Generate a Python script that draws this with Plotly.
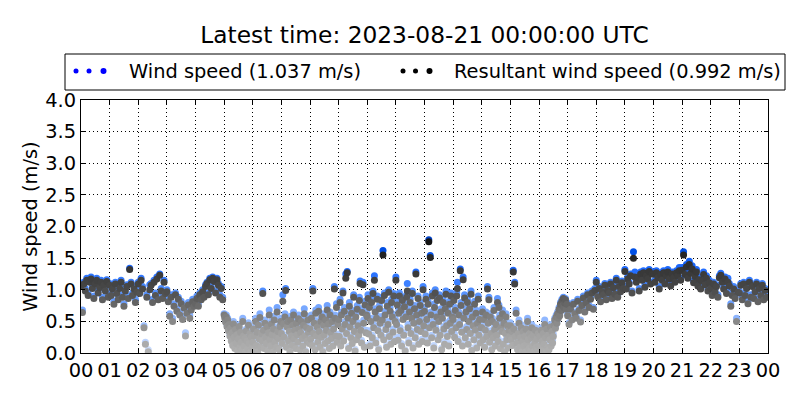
import pandas as pd
import plotly.graph_objects as go

# sample times: 3-minute steps in calm hours, 90-second steps in 05:00-16:59
times_early = pd.date_range("2023-08-20 00:00", periods=100, freq="3min")   # 00:00-04:57
times_mid = pd.date_range("2023-08-20 05:00", periods=480, freq="90s")      # 05:00-16:58:30
times_late = pd.date_range("2023-08-20 17:00", periods=140, freq="3min")    # 17:00-23:57
times = times_early.append(times_mid).append(times_late)

wind_speed = [
    # 00-04 (20 per hour)
    1.08, 0.68, 1.12, 1.02, 1.18, 0.95, 1.15, 1.20, 1.05, 0.90, 1.12, 1.18, 0.98, 1.06, 1.15, 0.88, 1.10, 1.02, 1.16, 0.92,
    1.10, 0.95, 1.05, 0.82, 1.12, 0.98, 0.88, 1.06, 1.15, 0.92, 0.78, 1.02, 1.08, 0.90, 1.34, 1.12, 0.95, 1.05, 0.85, 1.00,
    1.12, 0.98, 1.18, 1.05, 0.43, 0.17, 0.92, 0.05, 1.08, 1.10, 0.85, 1.15, 0.95, 1.20, 0.88, 1.25, 1.02, 0.90, 1.15, 0.98,
    1.00, 0.85, 0.62, 0.92, 0.55, 0.78, 0.95, 0.70, 0.88, 0.65, 0.82, 0.58, 0.75, 0.32, 0.68, 0.80, 0.60, 0.72, 0.85, 0.78,
    0.82, 0.90, 0.78, 0.95, 0.88, 1.00, 0.92, 1.08, 1.12, 0.95, 1.18, 1.05, 1.20, 1.15, 0.98, 1.18, 1.10, 0.92, 1.05, 0.88,
    # 05-16 (40 per hour)
    0.62, 0.58, 0.52, 0.60, 0.45, 0.55, 0.38, 0.48, 0.30, 0.42, 0.22, 0.35, 0.15, 0.50, 0.28, 0.10, 0.40, 0.18, 0.32, 0.06,
    0.25, 0.45, 0.12, 0.36, 0.20, 0.08, 0.55, 0.30, 0.14, 0.26, 0.04, 0.38, 0.22, 0.10, 0.48, 0.18, 0.33, 0.02, 0.28, 0.12,
    0.20, 0.42, 0.08, 0.30, 0.55, 0.15, 0.36, 0.05, 0.48, 0.25, 0.62, 0.12, 0.34, 0.22, 0.98, 0.40, 0.10, 0.52, 0.28, 0.18,
    0.45, 0.06, 0.35, 0.68, 0.24, 0.14, 0.50, 0.32, 0.02, 0.42, 0.58, 0.20, 0.30, 0.12, 0.72, 0.38, 0.26, 0.08, 0.46, 0.55,
    0.35, 0.18, 0.92, 0.50, 0.28, 0.62, 1.02, 0.12, 0.45, 0.55, 0.22, 0.38, 0.05, 0.58, 0.30, 0.15, 0.48, 0.65, 0.25, 0.40,
    0.10, 0.52, 0.32, 0.20, 0.60, 0.42, 0.08, 0.35, 0.55, 0.26, 0.14, 0.48, 0.70, 0.30, 0.04, 0.44, 0.22, 0.58, 0.36, 0.18,
    0.42, 0.25, 0.60, 0.15, 1.02, 0.35, 0.52, 0.08, 0.68, 0.30, 0.45, 0.20, 0.72, 0.38, 0.12, 0.55, 0.28, 0.62, 0.05, 0.48,
    0.32, 0.18, 0.58, 0.40, 0.75, 0.22, 0.50, 0.10, 0.65, 0.35, 0.26, 0.55, 0.14, 0.42, 1.05, 0.60, 0.30, 0.78, 0.20, 0.50,
    0.58, 0.30, 0.85, 0.15, 0.65, 0.42, 0.98, 0.22, 0.72, 0.50, 1.25, 0.35, 1.29, 0.60, 0.10, 0.80, 0.45, 0.28, 0.68, 0.18,
    0.55, 0.92, 0.38, 0.06, 0.62, 0.25, 0.75, 0.48, 0.32, 0.88, 1.14, 0.40, 0.20, 0.70, 1.12, 0.52, 0.12, 0.82, 0.36, 0.65,
    0.62, 0.92, 0.35, 0.78, 0.15, 0.55, 0.85, 0.28, 0.98, 0.45, 1.22, 0.70, 0.20, 0.60, 0.90, 0.40, 0.08, 0.75, 0.52, 0.32,
    0.88, 0.58, 1.62, 0.25, 0.95, 0.66, 0.42, 0.12, 0.80, 0.50, 1.00, 0.30, 0.72, 0.18, 0.85, 0.62, 0.38, 0.94, 0.22, 0.55,
    1.20, 0.50, 0.82, 0.25, 0.68, 0.95, 0.40, 0.72, 0.15, 0.88, 0.58, 0.32, 0.78, 0.05, 0.62, 0.92, 1.10, 0.45, 0.20, 0.70,
    0.85, 0.35, 0.60, 0.98, 0.12, 0.52, 0.75, 0.28, 1.28, 0.65, 0.42, 0.90, 0.18, 0.55, 0.80, 0.38, 0.68, 0.22, 1.05, 0.48,
    0.72, 0.35, 0.90, 0.58, 0.20, 0.82, 1.79, 0.45, 1.54, 0.65, 0.28, 0.95, 0.50, 0.12, 0.78, 1.00, 0.40, 0.62, 0.88, 0.25,
    0.55, 0.92, 0.32, 0.70, 0.08, 0.60, 0.85, 0.42, 0.18, 0.75, 0.98, 0.48, 0.30, 0.68, 0.15, 0.82, 0.52, 0.95, 0.38, 0.62,
    0.58, 0.88, 0.30, 0.72, 0.45, 0.95, 1.12, 0.22, 0.65, 0.50, 1.33, 0.80, 0.38, 0.15, 1.20, 0.60, 0.92, 0.28, 0.70, 0.42,
    0.85, 0.18, 0.55, 0.75, 0.35, 0.98, 0.08, 0.62, 0.48, 0.25, 0.82, 0.40, 0.68, 0.12, 0.52, 0.90, 0.32, 0.58, 0.20, 0.45,
    0.45, 0.70, 0.25, 0.58, 0.12, 0.40, 0.65, 0.30, 1.05, 0.52, 0.88, 0.20, 0.62, 0.35, 0.08, 0.55, 0.28, 0.72, 0.42, 0.15,
    0.50, 0.32, 0.86, 0.22, 0.76, 0.60, 0.10, 0.45, 0.38, 0.68, 0.18, 0.52, 0.05, 0.35, 0.62, 0.25, 0.48, 0.12, 0.40, 0.30,
    0.48, 0.25, 0.38, 0.15, 1.31, 0.42, 1.12, 0.30, 0.68, 0.20, 0.08, 0.35, 0.52, 0.12, 0.28, 0.45, 0.05, 0.22, 0.38, 0.15,
    0.30, 0.02, 0.42, 0.18, 0.55, 0.25, 0.10, 0.35, 0.06, 0.28, 0.45, 0.14, 0.32, 0.04, 0.20, 0.40, 0.12, 0.26, 0.08, 0.35,
    0.15, 0.30, 0.05, 0.40, 0.22, 0.10, 0.35, 0.18, 0.52, 0.28, 0.02, 0.42, 0.12, 0.32, 0.08, 0.25, 0.45, 0.15, 0.38, 0.20,
    0.30, 0.48, 0.55, 0.42, 0.60, 0.50, 0.65, 0.58, 0.72, 0.62, 0.80, 0.70, 0.85, 0.78, 0.88, 0.75, 0.82, 0.86, 0.72, 0.80,
    # 17-23 (20 per hour)
    0.62, 0.48, 0.72, 0.55, 0.80, 0.65, 0.58, 0.85, 0.70, 0.52, 0.78, 0.90, 0.68, 0.82, 0.95, 0.75, 0.88, 0.98, 0.72, 1.02,
    1.15, 0.92, 1.05, 0.85, 1.00, 0.95, 1.10, 0.88, 1.02, 0.98, 1.12, 0.90, 1.06, 0.96, 1.18, 0.92, 1.08, 1.00, 1.14, 1.05,
    1.32, 1.05, 1.20, 1.12, 1.25, 0.98, 1.60, 1.28, 1.15, 1.22, 1.02, 1.28, 1.18, 1.30, 1.08, 1.25, 1.20, 1.32, 1.12, 1.28,
    1.28, 1.15, 1.30, 1.22, 1.05, 1.27, 1.18, 1.30, 1.12, 1.25, 1.32, 1.20, 1.10, 1.28, 1.22, 1.15, 1.30, 1.25, 1.35, 1.18,
    1.35, 1.60, 1.28, 1.40, 1.22, 1.45, 1.30, 1.38, 1.15, 1.25, 1.32, 1.10, 1.20, 1.05, 1.18, 1.28, 1.12, 1.22, 1.02, 1.15,
    1.05, 0.95, 1.12, 1.00, 1.08, 0.92, 1.22, 1.26, 1.15, 1.05, 1.20, 0.98, 1.18, 1.10, 0.78, 0.95, 1.05, 0.90, 0.55, 1.00,
    0.98, 1.10, 0.88, 1.12, 0.95, 1.05, 0.82, 1.15, 0.92, 1.08, 0.90, 1.00, 1.12, 0.85, 1.05, 0.95, 1.10, 0.88, 1.02, 0.92,
]

resultant_speed = [
    # 00-04
    1.05, 0.64, 1.09, 0.98, 1.15, 0.91, 1.12, 1.17, 1.02, 0.86, 1.09, 1.15, 0.95, 1.03, 1.12, 0.84, 1.07, 0.98, 1.13, 0.88,
    1.07, 0.91, 1.01, 0.77, 1.09, 0.94, 0.84, 1.02, 1.12, 0.88, 0.74, 0.98, 1.05, 0.86, 1.32, 1.09, 0.91, 1.01, 0.80, 0.96,
    1.09, 0.94, 1.15, 1.01, 0.40, 0.14, 0.88, 0.02, 1.00, 1.07, 0.80, 1.12, 0.91, 1.17, 0.84, 1.23, 0.98, 0.86, 1.12, 0.94,
    0.97, 0.81, 0.58, 0.88, 0.50, 0.74, 0.92, 0.66, 0.85, 0.60, 0.78, 0.53, 0.71, 0.27, 0.63, 0.76, 0.55, 0.68, 0.81, 0.74,
    0.78, 0.86, 0.74, 0.92, 0.84, 0.97, 0.88, 1.05, 1.10, 0.92, 1.16, 1.02, 1.18, 1.13, 0.95, 1.16, 1.07, 0.88, 1.02, 0.84,
    # 05-16
    0.60, 0.55, 0.49, 0.57, 0.42, 0.52, 0.35, 0.45, 0.27, 0.39, 0.19, 0.32, 0.12, 0.46, 0.25, 0.07, 0.37, 0.15, 0.29, 0.03,
    0.22, 0.42, 0.09, 0.33, 0.17, 0.05, 0.50, 0.27, 0.11, 0.23, 0.02, 0.35, 0.19, 0.07, 0.44, 0.15, 0.30, 0.01, 0.25, 0.09,
    0.17, 0.38, 0.05, 0.27, 0.50, 0.12, 0.33, 0.02, 0.44, 0.22, 0.56, 0.09, 0.31, 0.19, 0.94, 0.36, 0.07, 0.47, 0.25, 0.15,
    0.41, 0.03, 0.32, 0.60, 0.21, 0.11, 0.46, 0.29, 0.01, 0.38, 0.52, 0.17, 0.27, 0.09, 0.65, 0.34, 0.23, 0.05, 0.42, 0.50,
    0.31, 0.15, 0.82, 0.46, 0.25, 0.57, 0.99, 0.09, 0.41, 0.50, 0.19, 0.34, 0.02, 0.52, 0.27, 0.12, 0.44, 0.60, 0.22, 0.36,
    0.07, 0.47, 0.29, 0.17, 0.54, 0.38, 0.05, 0.32, 0.50, 0.23, 0.11, 0.44, 0.62, 0.27, 0.02, 0.40, 0.19, 0.52, 0.33, 0.15,
    0.38, 0.22, 0.55, 0.12, 0.98, 0.31, 0.47, 0.05, 0.63, 0.27, 0.41, 0.17, 0.66, 0.34, 0.09, 0.50, 0.25, 0.57, 0.02, 0.44,
    0.29, 0.15, 0.52, 0.36, 0.68, 0.19, 0.46, 0.07, 0.60, 0.32, 0.23, 0.50, 0.11, 0.38, 1.01, 0.55, 0.27, 0.72, 0.17, 0.45,
    0.53, 0.26, 0.80, 0.11, 0.60, 0.38, 0.95, 0.19, 0.66, 0.45, 1.18, 0.31, 1.27, 0.55, 0.07, 0.74, 0.41, 0.24, 0.63, 0.15,
    0.50, 0.88, 0.34, 0.03, 0.57, 0.21, 0.69, 0.43, 0.28, 0.83, 1.10, 0.36, 0.16, 0.64, 1.08, 0.47, 0.09, 0.76, 0.32, 0.60,
    0.57, 0.86, 0.30, 0.72, 0.11, 0.50, 0.80, 0.24, 0.94, 0.40, 1.15, 0.65, 0.16, 0.55, 0.85, 0.35, 0.05, 0.70, 0.47, 0.28,
    0.83, 0.52, 1.55, 0.21, 0.91, 0.60, 0.37, 0.09, 0.74, 0.45, 0.96, 0.26, 0.66, 0.14, 0.80, 0.57, 0.33, 0.90, 0.18, 0.50,
    1.15, 0.45, 0.76, 0.20, 0.63, 0.90, 0.35, 0.67, 0.11, 0.83, 0.53, 0.28, 0.73, 0.03, 0.57, 0.88, 0.98, 0.40, 0.16, 0.65,
    0.80, 0.31, 0.55, 0.94, 0.08, 0.47, 0.70, 0.24, 1.25, 0.60, 0.37, 0.86, 0.14, 0.50, 0.75, 0.34, 0.63, 0.18, 1.00, 0.43,
    0.66, 0.30, 0.85, 0.53, 0.16, 0.77, 1.76, 0.40, 1.51, 0.60, 0.24, 0.90, 0.45, 0.08, 0.72, 0.95, 0.36, 0.57, 0.83, 0.21,
    0.50, 0.87, 0.28, 0.65, 0.05, 0.55, 0.80, 0.38, 0.14, 0.70, 0.93, 0.43, 0.26, 0.63, 0.11, 0.77, 0.47, 0.90, 0.34, 0.57,
    0.53, 0.83, 0.25, 0.67, 0.40, 0.90, 1.02, 0.18, 0.60, 0.45, 1.30, 0.75, 0.33, 0.11, 1.16, 0.55, 0.87, 0.24, 0.65, 0.37,
    0.80, 0.14, 0.50, 0.70, 0.31, 0.93, 0.04, 0.57, 0.43, 0.21, 0.77, 0.36, 0.63, 0.08, 0.47, 0.85, 0.28, 0.53, 0.16, 0.40,
    0.40, 0.65, 0.21, 0.53, 0.09, 0.36, 0.60, 0.26, 1.01, 0.47, 0.84, 0.17, 0.57, 0.31, 0.05, 0.50, 0.24, 0.67, 0.37, 0.11,
    0.45, 0.28, 0.80, 0.18, 0.72, 0.55, 0.07, 0.40, 0.34, 0.62, 0.14, 0.47, 0.02, 0.31, 0.57, 0.21, 0.43, 0.08, 0.36, 0.26,
    0.43, 0.21, 0.34, 0.12, 1.28, 0.38, 1.09, 0.26, 0.63, 0.16, 0.05, 0.31, 0.47, 0.09, 0.24, 0.40, 0.02, 0.18, 0.34, 0.11,
    0.26, 0.01, 0.38, 0.14, 0.50, 0.21, 0.07, 0.31, 0.03, 0.24, 0.40, 0.11, 0.28, 0.02, 0.16, 0.36, 0.09, 0.22, 0.05, 0.31,
    0.11, 0.26, 0.02, 0.36, 0.18, 0.07, 0.31, 0.14, 0.45, 0.24, 0.01, 0.38, 0.09, 0.28, 0.05, 0.21, 0.41, 0.11, 0.34, 0.16,
    0.26, 0.44, 0.52, 0.39, 0.57, 0.47, 0.62, 0.55, 0.69, 0.59, 0.77, 0.67, 0.82, 0.75, 0.86, 0.72, 0.79, 0.84, 0.69, 0.77,
    # 17-23
    0.59, 0.45, 0.69, 0.52, 0.77, 0.62, 0.55, 0.82, 0.67, 0.49, 0.75, 0.87, 0.65, 0.79, 0.92, 0.72, 0.85, 0.95, 0.69, 0.99,
    1.12, 0.89, 1.02, 0.81, 0.97, 0.92, 1.07, 0.84, 0.99, 0.95, 1.09, 0.86, 1.03, 0.93, 1.15, 0.88, 1.05, 0.97, 1.11, 1.02,
    1.29, 1.01, 1.17, 1.09, 1.22, 0.95, 1.50, 1.20, 1.12, 1.19, 0.98, 1.25, 1.15, 1.27, 1.04, 1.22, 1.17, 1.29, 1.09, 1.25,
    1.25, 1.12, 1.27, 1.19, 1.01, 1.24, 1.15, 1.27, 1.09, 1.22, 1.28, 1.17, 1.06, 1.25, 1.19, 1.12, 1.27, 1.22, 1.30, 1.15,
    1.31, 1.55, 1.24, 1.36, 1.18, 1.40, 1.26, 1.33, 1.11, 1.21, 1.28, 1.06, 1.16, 1.01, 1.14, 1.24, 1.08, 1.18, 0.98, 1.11,
    1.02, 0.91, 1.09, 0.96, 1.05, 0.88, 1.19, 1.23, 1.12, 1.01, 1.17, 0.94, 1.12, 1.06, 0.74, 0.91, 1.01, 0.86, 0.50, 0.96,
    0.95, 1.07, 0.84, 1.09, 0.91, 1.02, 0.78, 1.12, 0.88, 1.05, 0.86, 0.97, 1.09, 0.81, 1.02, 0.91, 1.07, 0.84, 0.99, 0.88,
]
assert len(wind_speed) == len(times) and len(resultant_speed) == len(times)

title_text = "Latest time: 2023-08-21 00:00:00 UTC"
ws_label = "Wind speed (1.037 m/s)"
res_label = "Resultant wind speed (0.992 m/s)"
y_ticks = [0.0, 0.5, 1.0, 1.5, 2.0, 2.5, 3.0, 3.5, 4.0]

FONT = "DejaVu Sans"
BASE = 19.4
blue_scale = [[0, "#d2e2ff"], [0.25, "#94baff"], [0.5, "#4d8cff"],
              [0.65, "#1f6bff"], [0.8, "#0050e6"], [1, "#0030a0"]]
grey_scale = [[0, "#b2b2b2"], [0.15, "#a2a2a2"], [0.3, "#7c7c7c"],
              [0.5, "#4a4a4a"], [0.65, "#373737"], [0.9, "#101010"], [1, "#000000"]]

fig = go.Figure()
fig.add_trace(go.Scatter(
    x=times, y=wind_speed, mode="markers", name=ws_label, showlegend=False,
    marker=dict(size=7, color=wind_speed, colorscale=blue_scale, cmin=0, cmax=2,
                line=dict(width=0)),
))
fig.add_trace(go.Scatter(
    x=times, y=resultant_speed, mode="markers", name=res_label, showlegend=False,
    marker=dict(size=7, color=resultant_speed, colorscale=grey_scale, cmin=0, cmax=2,
                line=dict(width=0)),
))

# the page body has an 8px margin; figure is 792x392 so it fits the 800x400 window
OFF = 8
FW, FH = 800 - OFF, 400 - OFF
# plot area in window pixels: x 81..768, y 100..353
L, R, T, B = 81, 768, 100, 353
W, H = R - L, B - T
def px(xp):
    return (xp - L) / W
def py(yp):
    return (B - yp) / H

shapes = [dict(type="rect", xref="paper", yref="paper",
               x0=px(65), x1=px(785), y0=py(90), y1=py(54),
               line=dict(color="black", width=1), fillcolor="white", layer="above")]
for cx, d, col in [(76, 5, "#0000ff"), (89, 5, "#0000ff"), (103.5, 6, "#0000ff"),
                   (403, 5, "#000000"), (415.5, 5, "#000000"), (429.5, 6, "#000000")]:
    shapes.append(dict(type="circle", xref="paper", yref="paper",
                       xsizemode="pixel", ysizemode="pixel",
                       xanchor=px(cx), yanchor=py(71),
                       x0=-d / 2, x1=d / 2, y0=-d / 2, y1=d / 2,
                       fillcolor=col, line=dict(width=0), layer="above"))

annotations = [
    dict(text=ws_label, xref="paper", yref="paper", x=px(127), y=py(72),
         xanchor="left", yanchor="middle", showarrow=False,
         font=dict(family=FONT, size=BASE, color="black")),
    dict(text=res_label, xref="paper", yref="paper", x=px(452), y=py(72),
         xanchor="left", yanchor="middle", showarrow=False,
         font=dict(family=FONT, size=BASE, color="black")),
]

fig.update_layout(
    width=FW, height=FH,
    margin=dict(l=L - OFF, r=800 - R, t=T - OFF, b=400 - B, pad=0),
    paper_bgcolor="white", plot_bgcolor="white",
    font=dict(family=FONT, size=BASE, color="black"),
    title=dict(text=title_text, xref="paper", x=0.5, xanchor="center",
               y=1 - (35 - OFF) / FH, yanchor="middle", yref="container",
               font=dict(family=FONT, size=23.3, color="black")),
    shapes=shapes, annotations=annotations,
    showlegend=False,
)
fig.update_xaxes(
    type="date",
    range=["2023-08-20 00:00:00", "2023-08-21 00:00:00"],
    tick0="2023-08-20 00:00:00", dtick=3600000, tickformat="%H",
    ticks="inside", ticklen=4, tickcolor="black",
    showline=True, linecolor="black", linewidth=1, mirror="ticks",
    showgrid=True, gridcolor="black", gridwidth=1, griddash="1px,3px",
    zeroline=False, tickfont=dict(family=FONT, size=BASE, color="black"),
)
fig.update_yaxes(
    range=[0, 4], tickvals=y_ticks, tickformat=".1f",
    ticks="inside", ticklen=4, tickcolor="black",
    showline=True, linecolor="black", linewidth=1, mirror="ticks",
    showgrid=True, gridcolor="black", gridwidth=1, griddash="1px,3px",
    zeroline=False, tickfont=dict(family=FONT, size=BASE, color="black"),
    title=dict(text="Wind speed (m/s)", font=dict(family=FONT, size=BASE, color="black"),
               standoff=2),
)

fig.write_html("out.html")
